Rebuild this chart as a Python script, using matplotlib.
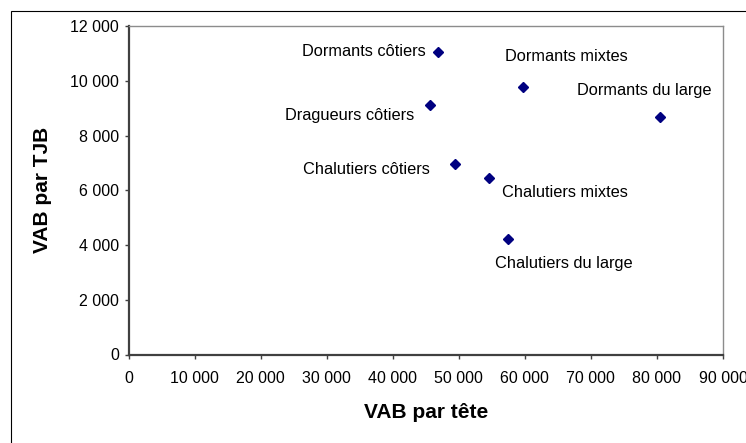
import matplotlib.pyplot as plt
from matplotlib.patches import Rectangle
from matplotlib.ticker import FuncFormatter, MultipleLocator

plt.rcParams['font.family'] = ['Liberation Sans', 'DejaVu Sans']

# segments de flotte : VAB par tête (x) et VAB par TJB (y)
segments = [
    'Dormants côtiers',
    'Dragueurs côtiers',
    'Chalutiers côtiers',
    'Chalutiers mixtes',
    'Dormants mixtes',
    'Dormants du large',
    'Chalutiers du large',
]
vab_par_tete = [46900, 45700, 49400, 54500, 59700, 80400, 57400]
vab_par_tjb = [11050, 9110, 6970, 6460, 9780, 8660, 4220]

# placement des étiquettes (décalage en pixels, alignement)
label_layout = {
    'Dormants côtiers': ((-13, 1), 'right'),
    'Dragueurs côtiers': ((-16, -10), 'right'),
    'Chalutiers côtiers': ((-25, -6), 'right'),
    'Chalutiers mixtes': ((13, -15), 'left'),
    'Dormants mixtes': ((44, 30), 'center'),
    'Dormants du large': ((-15, 27), 'center'),
    'Chalutiers du large': ((56, -25), 'center'),
}


def fmt_milliers(v, pos):
    return f'{v:,.0f}'.replace(',', ' ')


fig = plt.figure(figsize=(7.46, 4.43), dpi=100)
ax = fig.add_axes([128.5 / 746, 1 - 354.5 / 443, (723 - 128.5) / 746, (354.5 - 26) / 443])

ax.plot(vab_par_tete, vab_par_tjb, linestyle='none', marker='D', markersize=5.2,
        color='#000080', markeredgecolor='#000080')

for name, x, y in zip(segments, vab_par_tete, vab_par_tjb):
    offset, ha = label_layout[name]
    ax.annotate(name, (x, y), xytext=offset, textcoords='offset pixels',
                ha=ha, va='center', fontsize=11.8, color='black')

ax.set_xlim(0, 90000)
ax.set_ylim(0, 12000)
ax.xaxis.set_major_locator(MultipleLocator(10000))
ax.yaxis.set_major_locator(MultipleLocator(2000))
ax.xaxis.set_major_formatter(FuncFormatter(fmt_milliers))
ax.yaxis.set_major_formatter(FuncFormatter(fmt_milliers))

for side in ('left', 'bottom'):
    ax.spines[side].set_color('#404040')
    ax.spines[side].set_linewidth(1.6)
for side in ('top', 'right'):
    ax.spines[side].set_color('#8c8c8c')
    ax.spines[side].set_linewidth(1.0)

ax.tick_params(axis='both', direction='out', length=3, width=1, color='#404040',
               labelsize=11.5, labelcolor='black')
ax.tick_params(axis='x', pad=9)
ax.tick_params(axis='y', pad=4)

ax.set_xlabel('VAB par tête', fontsize=15, fontweight='bold', va='center')
ax.set_ylabel('VAB par TJB', fontsize=15, fontweight='bold', va='center')
ax.xaxis.set_label_coords(0.5, (354.5 - 413) / 328.5)
ax.yaxis.set_label_coords((43 - 128.5) / 594.5, 0.5)

# cadre extérieur du graphique
fig.patches.append(Rectangle((10.5 / 746, -0.2), 1.2, 1.2 - 10.5 / 443,
                             transform=fig.transFigure, fill=False,
                             edgecolor='black', linewidth=0.8))

fig.savefig('out.png', dpi=100)
